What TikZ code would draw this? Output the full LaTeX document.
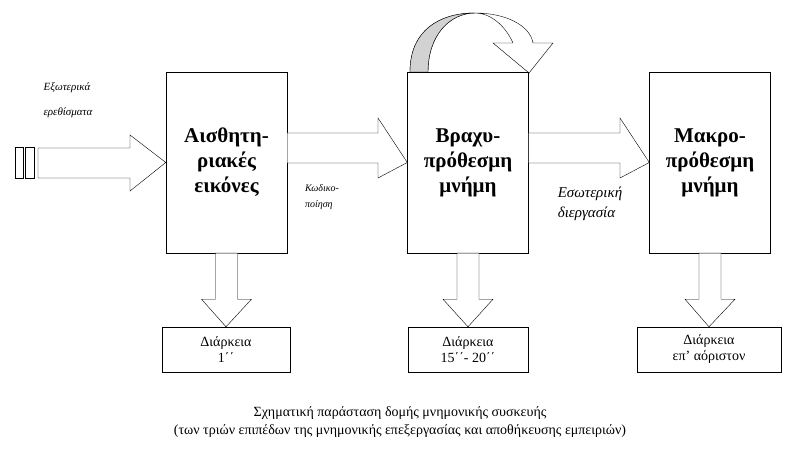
\documentclass[tikz,border=0pt]{standalone}
\usepackage{fontspec}
\setmainfont{Liberation Serif}
\usetikzlibrary{positioning,calc}

\begin{document}
\begin{tikzpicture}[
    x=1pt, y=-1pt,
    stage/.style={rectangle, draw, minimum width=121pt, minimum height=181pt, inner sep=0pt, align=center, font=\fontsize{21}{25}\selectfont\bfseries},
    span/.style={rectangle, draw, minimum height=45pt, inner sep=0pt, align=center, font=\fontsize{14}{16}\selectfont},
    note/.style={align=left, font=\itshape\fontsize{11}{25}\selectfont},
    fat/.style={draw, fill=white}
]
    \useasboundingbox (0,0) rectangle (798,465);
    % Stages
    \node[stage] (sense) at (226.5,162.5) {Αισθητη-\\ριακές\\εικόνες};
    \node[stage] (short) at (468,162.5) {Βραχυ-\\πρόθεσμη\\μνήμη};
    \node[stage] (long) at (710,162.5) {Μακρο-\\πρόθεσμη\\μνήμη};

    % Durations
    \node[span, minimum width=128pt] (dsense) at (226,349.5) {Διάρκεια\\1΄΄};
    \node[span, minimum width=120pt] (dshort) at (468,349.5) {Διάρκεια\\15΄΄- 20΄΄};
    \node[span, minimum width=144pt] (dlong) at (709,349.5) {Διάρκεια\\επ’ αόριστον};

    % Input
    \draw (15,147) rectangle (23,178);
    \draw (25,147) rectangle (34,178);
    \draw[fat] (38,148) -- (130,148) -- (130,135) -- (sense.west) -- (130,191) -- (130,178) -- (38,178) -- cycle;
    \node[note] (ext) at (68,100) {Εξωτερικά\\ερεθίσματα};

    % Horizontal arrows
    \draw[fat] (sense.east |- 0,133) -- (378,133) -- (378,118) -- (short.west) -- (378,178) -- (378,163) -- (sense.east |- 0,163) -- cycle;
    \draw[fat] (short.east |- 0,133) -- (620,133) -- (620,118) -- (long.west) -- (620,178) -- (620,163) -- (short.east |- 0,163) -- cycle;
    \node[note, font=\itshape\fontsize{10}{16}\selectfont] (code) at (322,197) {Κωδικο-\\ποίηση};
    \node[note, font=\itshape\fontsize{15}{20}\selectfont] (inner) at (590,204) {Εσωτερική\\διεργασία};

    % Vertical arrows
    \foreach \s/\d in {sense/dsense, short/dshort, long/dlong}{
        \draw[fat] ($(\s.south)+(-11,0)$) -- ($(\s.south)+(-11,46)$) -- ($(\s.south)+(-25,46)$) -- (\d.north)
            -- ($(\s.south)+(25,46)$) -- ($(\s.south)+(11,46)$) -- ($(\s.south)+(11,0)$) -- cycle;
    }

    % Rehearsal loop
    \draw[fill=white] (410,72) .. controls (410,30) and (440,13) .. (475,13)
        .. controls (505,13) and (530,25) .. (533,43) -- (553,43) -- (529,73) -- (493,43) -- (513,43)
        .. controls (505,25) and (490,13) .. (475,13)
        .. controls (450,13) and (428,35) .. (428,72) -- cycle;
    \draw[fill=gray!35] (410,72) .. controls (410,30) and (440,13) .. (475,13)
        .. controls (450,13) and (428,35) .. (428,72) -- cycle;
    \draw (short.north west) -- (short.north east);

    % Caption
    \node[font=\fontsize{14}{18}\selectfont, align=center] (caption) at (400,422) {Σχηματική παράσταση δομής μνημονικής συσκευής\\(των τριών επιπέδων της μνημονικής επεξεργασίας και αποθήκευσης εμπειριών)};
\end{tikzpicture}
\end{document}
